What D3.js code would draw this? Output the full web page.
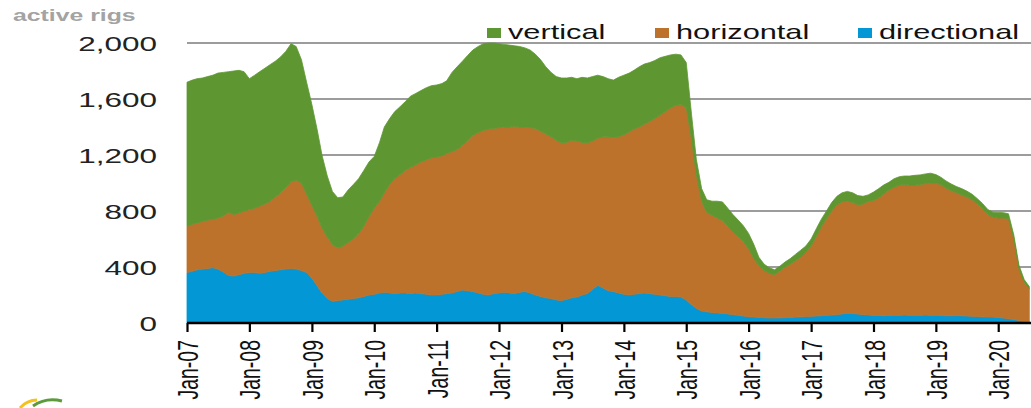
<!DOCTYPE html>
<html>
<head>
<meta charset="utf-8">
<script src="https://cdn.jsdelivr.net/npm/d3@7"></script>
<style>
  body { margin: 0; background: #fff; }
  svg { display: block; font-family: "Liberation Sans", Arial, sans-serif; }
</style>
</head>
<body>
<div id="chart"></div>
<script>
// monthly rig counts, Jan 2007 .. Jul 2020
var directional = [
  360, 370, 380, 385, 390, 395, 385, 365, 340, 335, 345, 355,
  360, 360, 355, 360, 370, 375, 380, 385, 390, 385, 375, 360,
  320, 265, 215, 175, 155, 160, 165, 170, 175, 180, 190, 200,
  205, 215, 220, 215, 210, 215, 215, 210, 215, 210, 205, 200,
  200, 205, 210, 215, 225, 235, 230, 225, 215, 205, 200, 210,
  215, 220, 215, 210, 220, 225, 215, 200, 190, 180, 175, 165,
  160, 170, 180, 185, 200, 210, 240, 270, 250, 230, 225, 215,
  205, 200, 205, 210, 215, 210, 205, 200, 195, 190, 190, 185,
  165, 130, 105, 85, 80, 75, 72, 70, 65, 60, 55, 50,
  45, 42, 40, 38, 36, 36, 37, 38, 40, 42, 44, 46,
  48, 50, 52, 55, 57, 60, 65, 70, 68, 64, 60, 58,
  56, 54, 52, 54, 55, 56, 57, 56, 55, 56, 57, 56,
  55, 54, 52, 52, 53, 52, 50, 48, 46, 44, 43, 42,
  40, 35, 30, 25, 18, 12, 10
]
var horizontal = [
  330, 335, 335, 340, 345, 345, 365, 400, 450, 440, 440, 445,
  450, 460, 480, 490, 500, 525, 550, 580, 620, 635, 625, 560,
  520, 495, 465, 440, 405, 375, 385, 405, 425, 455, 500, 560,
  615, 655, 710, 775, 820, 845, 875, 900, 915, 940, 960, 980,
  985, 990, 1000, 1010, 1015, 1035, 1070, 1115, 1145, 1170, 1185, 1180,
  1180, 1180, 1185, 1195, 1180, 1175, 1180, 1190, 1180, 1170, 1155, 1140,
  1125, 1120, 1125, 1115, 1090, 1075, 1060, 1050, 1080, 1100, 1100, 1115,
  1140, 1165, 1180, 1190, 1205, 1230, 1255, 1285, 1315, 1345, 1365, 1375,
  1375, 1180, 955, 785, 710, 695, 678, 660, 625, 590, 560, 530,
  485, 418, 370, 337, 319, 309, 333, 362, 380, 403, 426, 459,
  502, 570, 633, 690, 743, 785, 800, 800, 792, 781, 790, 812,
  819, 841, 868, 896, 915, 929, 933, 929, 930, 934, 938, 944,
  945, 931, 913, 893, 877, 863, 850, 832, 804, 771, 732, 713,
  710, 715, 715, 575, 372, 278, 235
]
var vertical = [
  1030, 1030, 1030, 1025, 1025, 1030, 1035, 1025, 1005, 1025, 1020, 995,
  935, 950, 960, 970, 975, 970, 970, 975, 985, 955, 880, 800,
  720, 620, 520, 435, 380, 360, 350, 375, 390, 395, 400, 390,
  370, 420, 470, 470, 480, 485, 490, 510, 510, 510, 515, 515,
  515, 515, 520, 565, 590, 600, 610, 610, 615, 620, 615, 610,
  600, 590, 585, 575, 575, 565, 555, 530, 510, 480, 460, 455,
  465, 460, 450, 445, 465, 465, 460, 450, 430, 415, 410, 425,
  425, 420, 420, 430, 430, 420, 415, 410, 395, 380, 365, 355,
  320, 180, 110, 90, 90, 100, 120, 135, 130, 125, 120, 115,
  110, 100, 60, 45, 40, 35, 35, 35, 40, 45, 50, 45,
  50, 55, 55, 55, 60, 60, 65, 70, 70, 65, 55, 45,
  60, 65, 65, 55, 60, 60, 60, 65, 70, 68, 70, 70,
  60, 55, 50, 48, 45, 45, 42, 40, 38, 38, 36, 36,
  40, 38, 35, 30, 25, 20, 15
]
var tickLabels = ["Jan-07", "Jan-08", "Jan-09", "Jan-10", "Jan-11", "Jan-12", "Jan-13",
  "Jan-14", "Jan-15", "Jan-16", "Jan-17", "Jan-18", "Jan-19", "Jan-20"]
var yTicks = [0, 400, 800, 1200, 1600, 2000]
var seriesKeys = ["directional", "horizontal", "vertical"]
var legendKeys = ["vertical", "horizontal", "directional"]
var colors = { vertical: "#5e9732", horizontal: "#bd722c", directional: "#0397d6" }

var width = 1031
var height = 408
var stretch = 1.5   // the original picture is squeezed wide

var months = d3.timeMonth.range(new Date(2007, 0, 1), new Date(2020, 7, 1))
var data = months.map(function (d, i) {
  return { date: d, directional: directional[i], horizontal: horizontal[i], vertical: vertical[i] }
})

var svg = d3.select("#chart").append("svg")
  .attr("width", width)
  .attr("height", height)

var x = d3.scaleTime()
  .domain([new Date(2007, 0, 1), new Date(2020, 6, 5)])
  .range([187, 1030])

var y = d3.scaleLinear()
  .domain([0, 2000])
  .range([323, 43])

// gridlines
svg.append("g")
  .selectAll("line")
  .data(yTicks.slice(1))
  .enter().append("line")
  .attr("x1", 187)
  .attr("x2", width)
  .attr("y1", function (d) { return y(d) })
  .attr("y2", function (d) { return y(d) })
  .style("stroke", "#9c9c9c")
  .style("stroke-width", 2)

// y labels
svg.append("g")
  .selectAll("text")
  .data(yTicks)
  .enter().append("text")
  .attr("transform", function (d) { return "translate(157," + y(d) + ") scale(" + stretch + ",1)" })
  .attr("dy", "0.36em")
  .style("text-anchor", "end")
  .style("font-size", "21px")
  .style("fill", "#222")
  .text(d3.format(","))

// stacked areas
var stacked = d3.stack().keys(seriesKeys)(data)
var area = d3.area()
  .x(function (d) { return x(d.data.date) })
  .y0(function (d) { return y(d[0]) })
  .y1(function (d) { return y(d[1]) })

svg.append("g")
  .selectAll("path")
  .data(stacked)
  .enter().append("path")
  .attr("d", area)
  .style("fill", function (d) { return colors[d.key] })
  .style("stroke", function (d) { return colors[d.key] })
  .style("stroke-width", 0.8)

// x axis
var years = tickLabels.map(function (t) { return new Date(2000 + +t.slice(4), 0, 1) })
var xAxis = d3.axisBottom(x)
  .tickValues(years)
  .tickFormat(function (d, i) { return tickLabels[i] })
  .tickSize(9)
  .tickSizeOuter(0)

var gx = svg.append("g")
  .attr("transform", "translate(0,323)")
  .call(xAxis)
gx.select(".domain").attr("d", "M187,0H" + width).style("stroke", "#000").style("stroke-width", 2.6)
gx.selectAll(".tick line").style("stroke", "#000").style("stroke-width", 2.2)
gx.selectAll(".tick text")
  .attr("x", 0)
  .attr("y", 0)
  .attr("dy", "0.36em")
  .attr("transform", "translate(0,17) scale(" + stretch + ",1) rotate(-90)")
  .style("text-anchor", "end")
  .style("font-size", "19.5px")
  .style("font-family", "'Liberation Sans', Arial, sans-serif")
  .style("fill", "#111")

// unit label
svg.append("text")
  .attr("transform", "translate(13,21) scale(1.55,1)")
  .style("font-size", "16px")
  .style("font-weight", "bold")
  .style("fill", "#a3a3a3")
  .text("active rigs")

// legend
var legendX = { vertical: 487, horizontal: 655, directional: 858 }
var lg = svg.append("g")
  .selectAll("g")
  .data(legendKeys)
  .enter().append("g")
  .attr("transform", function (d) { return "translate(" + legendX[d] + ",0)" })
lg.append("rect")
  .attr("x", 0)
  .attr("y", 28)
  .attr("width", 14)
  .attr("height", 10)
  .style("fill", function (d) { return colors[d] })
lg.append("text")
  .attr("transform", "translate(21,39) scale(" + stretch + ",1)")
  .style("font-size", "20.5px")
  .style("fill", "#111")
  .text(function (d) { return d })

// corner logo swoosh
svg.append("path")
  .attr("d", "M20,408 Q27,400 37,400")
  .style("fill", "none").style("stroke", "#f4c21c").style("stroke-width", 3)
svg.append("path")
  .attr("d", "M33,406 Q46,397 62,401")
  .style("fill", "none").style("stroke", "#5b9b3c").style("stroke-width", 3)
</script>
</body>
</html>
